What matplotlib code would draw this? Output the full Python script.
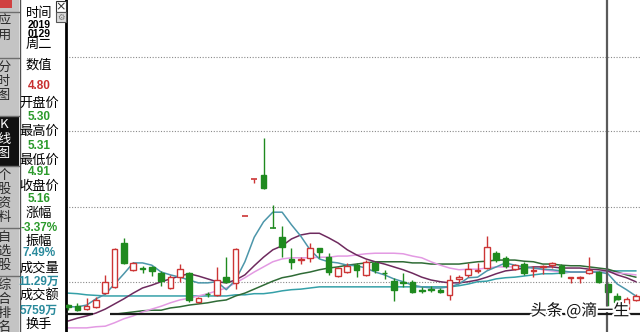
import matplotlib
matplotlib.use("Agg")
import matplotlib.pyplot as plt
import matplotlib.patheffects as pe
from matplotlib.patches import Rectangle
import numpy as np

# -------------------------------
# DATA
# -------------------------------
opens = [4.93, 4.91, 4.86, 4.90, 5.14, 5.25, 6.02, 5.55, 5.58, 5.60,
         5.50, 5.23, 5.42, 5.49, 4.98, 5.13, 5.11, 5.42, 5.32, 6.50,
         7.15, 7.21, 6.28, 6.12, 5.73, 5.72, 5.76, 5.93, 5.77, 5.44,
         5.51, 5.63, 5.46, 5.67, 5.50, 5.35, 5.33, 5.34, 5.19, 5.22,
         5.20, 5.11, 5.39, 5.46, 5.53, 5.58, 5.84, 5.76, 5.56, 5.65,
         5.53, 5.60, 5.64, 5.62, 5.41, 5.41, 5.49, 5.51, 5.30, 5.09,
         4.86, 5.02]
highs = [4.95, 4.97, 5.05, 5.07, 5.45, 5.93, 6.11, 5.69, 5.62, 5.62,
         5.52, 5.46, 5.65, 5.51, 5.08, 5.16, 5.60, 5.77, 5.93, 6.50,
         7.15, 7.86, 6.69, 6.32, 5.93, 5.77, 6.02, 5.94, 5.84, 5.60,
         5.67, 5.67, 5.72, 5.70, 5.55, 5.40, 5.49, 5.37, 5.25, 5.26,
         5.23, 5.46, 5.46, 5.67, 5.67, 6.14, 5.88, 5.79, 5.65, 5.69,
         5.62, 5.63, 5.69, 5.65, 5.43, 5.44, 5.77, 5.53, 5.31, 5.14,
         5.07, 5.12]
lows = [4.84, 4.83, 4.85, 4.88, 5.12, 5.23, 5.65, 5.53, 5.50, 5.44,
        5.27, 5.22, 5.33, 4.98, 4.96, 5.07, 5.09, 5.31, 5.22, 6.50,
        7.08, 6.96, 6.28, 5.77, 5.56, 5.65, 5.69, 5.76, 5.46, 5.42,
        5.49, 5.42, 5.44, 5.49, 5.39, 5.00, 5.25, 5.14, 5.14, 5.16,
        5.14, 5.02, 5.32, 5.42, 5.49, 5.56, 5.69, 5.58, 5.55, 5.46,
        5.42, 5.48, 5.58, 5.42, 5.32, 5.32, 5.47, 5.32, 4.91, 4.93,
        4.83, 5.00]
closes = [4.90, 4.85, 4.91, 5.02, 5.33, 5.91, 5.67, 5.66, 5.56, 5.53,
          5.36, 5.42, 5.56, 5.02, 5.05, 5.12, 5.37, 5.33, 5.91, 6.50,
          7.15, 6.98, 6.28, 5.95, 5.68, 5.74, 5.93, 5.86, 5.51, 5.58,
          5.62, 5.55, 5.69, 5.55, 5.49, 5.19, 5.31, 5.16, 5.17, 5.20,
          5.16, 5.37, 5.42, 5.56, 5.55, 5.95, 5.72, 5.62, 5.63, 5.49,
          5.55, 5.62, 5.66, 5.49, 5.42, 5.43, 5.55, 5.34, 5.16, 4.98,
          5.04, 5.09]

nan = np.nan
ma5 = [4.90, 4.90, 4.93, 5.04, 5.12, 5.30, 5.48, 5.67, 5.67, 5.63,
       5.51, 5.46, 5.42, 5.37, 5.32, 5.32, 5.34, 5.20, 5.37, 5.69,
       6.12, 6.39, 6.56, 6.56, 6.34, 6.14, 5.90, 5.74, 5.69, 5.67,
       5.63, 5.62, 5.58, 5.51, 5.46, 5.39, 5.34, 5.28, 5.25, 5.23,
       5.23, 5.25, 5.30, 5.41, 5.42, 5.53, 5.60, 5.67, 5.63, 5.60,
       5.58, 5.56, 5.55, 5.53, 5.51, 5.51, 5.51, 5.51, 5.48, 5.30,
       5.20, 5.09]
ma10 = [4.65, 4.70, 4.74, 4.79, 4.86, 4.95, 5.04, 5.14, 5.23, 5.28,
        5.34, 5.39, 5.44, 5.48, 5.44, 5.39, 5.34, 5.32, 5.37, 5.46,
        5.62, 5.77, 5.90, 5.97, 6.09, 6.16, 6.19, 6.19, 6.11, 6.02,
        5.90, 5.81, 5.74, 5.69, 5.65, 5.60, 5.55, 5.49, 5.42, 5.37,
        5.34, 5.32, 5.32, 5.34, 5.37, 5.42, 5.48, 5.53, 5.55, 5.58,
        5.60, 5.60, 5.60, 5.58, 5.58, 5.58, 5.56, 5.55, 5.53, 5.46,
        5.41, 5.34]
ma20 = [4.53, 4.53, 4.53, 4.55, 4.56, 4.62, 4.69, 4.74, 4.81, 4.86,
        4.91, 4.97, 5.02, 5.05, 5.09, 5.13, 5.18, 5.23, 5.32, 5.41,
        5.51, 5.60, 5.69, 5.74, 5.76, 5.76, 5.76, 5.77, 5.77, 5.79,
        5.79, 5.81, 5.83, 5.84, 5.84, 5.84, 5.83, 5.79, 5.76, 5.69,
        5.63, 5.58, 5.55, 5.56, 5.56, 5.58, 5.60, 5.60, 5.60, 5.60,
        5.58, 5.55, 5.53, 5.51, 5.51, 5.51, 5.51, 5.51, 5.51, 5.49,
        5.48, 5.46]
ma30 = [nan, nan, nan, nan, nan, 4.77, 4.79, 4.81, 4.83, 4.84,
        4.84, 4.88, 4.90, 4.93, 4.95, 4.97, 5.00, 5.02, 5.09, 5.14,
        5.21, 5.28, 5.35, 5.41, 5.44, 5.48, 5.51, 5.55, 5.58, 5.60,
        5.63, 5.65, 5.67, 5.69, 5.69, 5.69, 5.69, 5.67, 5.67, 5.65,
        5.65, 5.65, 5.65, 5.67, 5.69, 5.70, 5.72, 5.72, 5.72, 5.70,
        5.69, 5.65, 5.65, 5.63, 5.62, 5.62, 5.60, 5.58, 5.56, 5.51,
        5.46, 5.42]
ma60 = [5.14, 5.13, 5.11, 5.10, 5.09, 5.09, 5.09, 5.09, 5.09, 5.09,
        5.09, 5.09, 5.09, 5.09, 5.09, 5.09, 5.09, 5.09, 5.11, 5.11,
        5.13, 5.13, 5.15, 5.18, 5.20, 5.21, 5.23, 5.25, 5.25, 5.25,
        5.25, 5.25, 5.25, 5.25, 5.25, 5.25, 5.25, 5.25, 5.25, 5.25,
        5.25, 5.25, 5.27, 5.30, 5.34, 5.35, 5.39, 5.41, 5.42, 5.44,
        5.46, 5.48, 5.48, 5.49, 5.51, 5.51, 5.51, 5.51, 5.53, 5.53,
        5.53, 5.53]

grid_prices = [5.335, 6.65, 7.98, 9.28]
cursor_idx = 58
cursor_price = 4.77

info_rows = [
    ("时间", "label"), ("2019", "date"), ("0129", "date"), ("周二", "label"),
    ("数值", "label"), ("4.80", "red"),
    ("开盘价", "label"), ("5.30", "green"),
    ("最高价", "label"), ("5.31", "green"),
    ("最低价", "label"), ("4.91", "green"),
    ("收盘价", "label"), ("5.16", "green"),
    ("涨幅", "label"), ("-3.37%", "green"),
    ("振幅", "label"), ("7.49%", "teal"),
    ("成交量", "label"), ("11.29万", "teal"),
    ("成交额", "label"), ("5759万", "teal"),
    ("换手", "label"),
]
info_y = [14, 25, 34, 44, 65, 86, 103, 117, 131, 146, 160, 172,
          186, 199, 213, 228, 241, 253, 268, 282, 296, 311, 324]

tab_names = ["应用", "分时图", "K线图", "个股资料", "自选股", "综合排名"]
tab_tops = [12, 58, 116, 166, 228, 276]

W, H = 640, 332
RED = "#cc3535"
GREEN = "#1f8a1f"
CJK = ["Noto Sans CJK SC", "DejaVu Sans"]
NUM = ["Liberation Sans", "Noto Sans CJK SC"]

fig = plt.figure(figsize=(W / 100, H / 100), dpi=100)
fig.patch.set_facecolor("white")


def fx(x):
    return x / W


def fy(y):
    return 1 - y / H


# -------------------------------
# LEFT TAB STRIP
# -------------------------------
fig.add_artist(Rectangle((0, 0), fx(19), 1, transform=fig.transFigure,
                         facecolor="#c4c4c4", edgecolor="none"))
fig.add_artist(Rectangle((0, fy(8)), fx(12), fy(0) - fy(8), transform=fig.transFigure,
                         facecolor="#d04040", edgecolor="none"))
for k, (name, top) in enumerate(zip(tab_names, tab_tops)):
    active = name == "K线图"
    bottom = tab_tops[k + 1] if k + 1 < len(tab_tops) else H + 10
    if active:
        fig.add_artist(Rectangle((0, fy(bottom)), fx(19), fy(top) - fy(bottom),
                                 transform=fig.transFigure, facecolor="#111111",
                                 edgecolor="none"))
    fig.add_artist(plt.Line2D([0, fx(19)], [fy(top), fy(top)], transform=fig.transFigure,
                              color="#6e6e6e", lw=1))
    for j, ch in enumerate(name):
        fig.text(fx(4), fy(top + 9 + 14 * j), ch, ha="center", va="center",
                 fontsize=9.5, family=CJK, color="white" if active else "#2a2a2a")
fig.add_artist(plt.Line2D([fx(19.5), fx(19.5)], [0, 1], transform=fig.transFigure,
                          color="#505050", lw=1))

# -------------------------------
# INFO PANEL
# -------------------------------
colors = {"label": "black", "date": "black", "red": "#c83030",
          "green": "#2b9a2b", "teal": "#2a8a9c"}
for (txt, kind), y in zip(info_rows, info_y):
    if kind == "label":
        fig.text(fx(39), fy(y), txt, ha="center", va="center", fontsize=9.5,
                 family=CJK, color=colors[kind])
    elif kind == "date":
        fig.text(fx(39), fy(y), txt, ha="center", va="center", fontsize=7.5,
                 family=NUM, fontweight="bold", color=colors[kind])
    else:
        fig.text(fx(39), fy(y), txt, ha="center", va="center", fontsize=8.5,
                 family=NUM, fontweight="bold", color=colors[kind])

fig.add_artist(Rectangle((fx(56), fy(12)), fx(10), fy(1) - fy(12), transform=fig.transFigure,
                         facecolor="white", edgecolor="#333333", lw=0.8))
fig.text(fx(61), fy(6.5), "×", ha="center", va="center", fontsize=9, color="#333333")
fig.add_artist(Rectangle((fx(56), fy(22)), fx(10), fy(12) - fy(22), transform=fig.transFigure,
                         facecolor="#dcdcdc", edgecolor="#555555", lw=0.8))
fig.text(fx(61), fy(17), "⚙", ha="center", va="center", fontsize=6, color="#777777")

# -------------------------------
# K-LINE CHART
# -------------------------------
ax = fig.add_axes([fx(66), 0, fx(W) - fx(66), 1])
ax.set_xlim(-0.22, 61.45)
ax.set_ylim(5.30 - 48 / 57, 5.30 + 284 / 57)
ax.set_xticks([])
ax.set_yticks([])
for s in ["top", "right", "bottom"]:
    ax.spines[s].set_visible(False)
ax.spines["left"].set_linewidth(2)
ax.spines["left"].set_color("black")

for gp in grid_prices:
    ax.axhline(gp, color="#8a8a8a", lw=0.8, ls=(0, (1, 1.5)), zorder=1)

x = np.arange(len(opens))
ax.plot(x, ma60, color="#35a0a8", lw=1.1, zorder=2)
ax.plot(x, ma30, color="#2f6b36", lw=1.1, zorder=2)
ax.plot(x, ma20, color="#e39ae3", lw=1.1, zorder=2)
ax.plot(x, ma10, color="#6e2a5e", lw=1.1, zorder=2)
ax.plot(x, ma5, color="#4c96aa", lw=1.1, zorder=2)

bw = 0.6
for i in x:
    o, h, l, c = opens[i], highs[i], lows[i], closes[i]
    prev = closes[i - 1] if i > 0 else o
    up = c > o or (c == o and c >= prev)
    col = RED if up else GREEN
    lo, hi = min(o, c), max(o, c)
    if hi - lo < 0.005:
        ax.vlines(i, l, h, color=col, lw=1, zorder=3)
        ax.hlines(o, i - bw / 2, i + bw / 2, color=col, lw=1.2, zorder=4)
        continue
    ax.vlines(i, l, lo, color=col, lw=1, zorder=3)
    ax.vlines(i, hi, h, color=col, lw=1, zorder=3)
    ax.add_patch(Rectangle((i - bw / 2, lo), bw, hi - lo,
                           facecolor="white" if up else col, edgecolor=col,
                           lw=1, zorder=4))

# crosshair
ax.axvline(cursor_idx - 0.1, color="#5a5a5a", lw=1.6, zorder=6)
ax.hlines(cursor_price, -0.22, 2.7, color="#1a1a1a", lw=1.6, zorder=6)
ax.hlines(cursor_price, 4.5, 61.45, color="#1a1a1a", lw=1.6, zorder=6)

# watermark
fig.text(fx(580), fy(311), "头条 @滴一生", ha="center", va="center", fontsize=11.5,
         family=CJK, color="#111111",
         path_effects=[pe.withStroke(linewidth=3, foreground="white")])

fig.savefig("out.png", dpi=100)
